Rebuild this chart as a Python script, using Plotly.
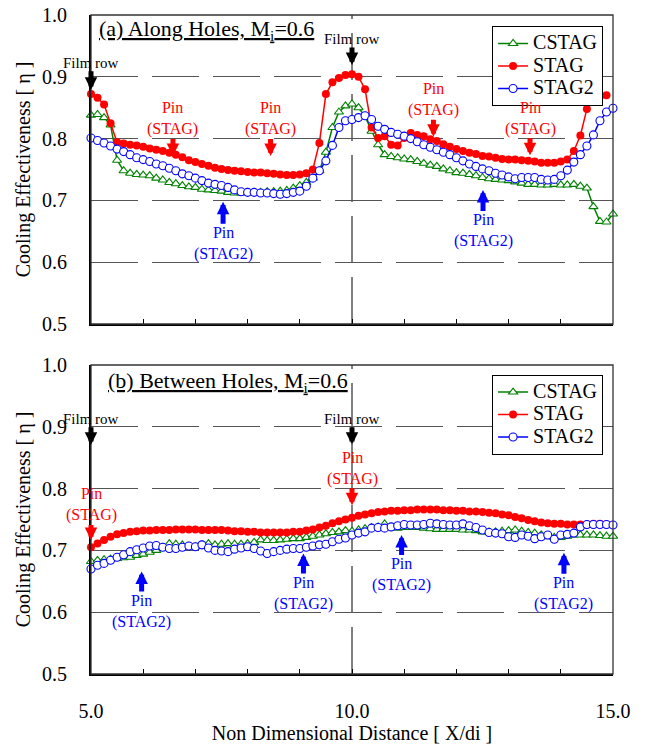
import plotly.graph_objects as go

# Sample positions along the wall, X/di
X_START = 5.0
X_STEP = 0.125
N_POINTS = 81
X = [X_START + X_STEP * i for i in range(N_POINTS)]

# (a) Along holes, Mi = 0.6
CSTAG_A = [0.838, 0.839, 0.834, 0.822, 0.765, 0.748, 0.744, 0.742, 0.741, 0.740,
           0.736, 0.733, 0.729, 0.727, 0.724, 0.722, 0.721, 0.718, 0.717, 0.716,
           0.715, 0.713, 0.712, 0.712, 0.713, 0.713, 0.713, 0.714, 0.714, 0.715,
           0.716, 0.720, 0.724, 0.729, 0.736, 0.748, 0.778, 0.818, 0.843, 0.853,
           0.856, 0.850, 0.836, 0.812, 0.790, 0.774, 0.771, 0.769, 0.767, 0.766,
           0.763, 0.760, 0.757, 0.755, 0.751, 0.748, 0.745, 0.744, 0.742, 0.740,
           0.737, 0.735, 0.734, 0.733, 0.732, 0.730, 0.728, 0.726, 0.726, 0.725,
           0.725, 0.726, 0.725, 0.725, 0.726, 0.723, 0.720, 0.690, 0.666, 0.665,
           0.678]
STAG_A = [0.872, 0.866, 0.855, 0.825, 0.794, 0.792, 0.790, 0.789, 0.787, 0.784,
          0.782, 0.780, 0.777, 0.774, 0.770, 0.765, 0.762, 0.759, 0.756, 0.753,
          0.751, 0.749, 0.748, 0.747, 0.746, 0.745, 0.745, 0.744, 0.743, 0.742,
          0.741, 0.741, 0.742, 0.744, 0.750, 0.793, 0.872, 0.891, 0.898, 0.903,
          0.904, 0.900, 0.880, 0.818, 0.801, 0.804, 0.790, 0.789, 0.801, 0.809,
          0.806, 0.804, 0.799, 0.796, 0.791, 0.787, 0.783, 0.780, 0.777, 0.775,
          0.772, 0.771, 0.769, 0.767, 0.766, 0.766, 0.765, 0.764, 0.763, 0.761,
          0.761, 0.761, 0.763, 0.766, 0.780, 0.805, 0.848, 0.865, 0.868, 0.870,
          None]
STAG2_A = [0.801, 0.797, 0.793, 0.788, 0.783, 0.779, 0.774, 0.769, 0.766, 0.763,
           0.759, 0.756, 0.752, 0.748, 0.743, 0.740, 0.736, 0.732, 0.728, 0.726,
           0.724, 0.721, 0.717, 0.714, 0.713, 0.713, 0.712, 0.712, 0.711, 0.710,
           0.711, 0.713, 0.715, 0.723, 0.736, 0.748, 0.764, 0.789, 0.818, 0.829,
           0.831, 0.834, 0.837, 0.831, 0.820, 0.815, 0.810, 0.807, 0.804, 0.800,
           0.795, 0.790, 0.786, 0.782, 0.778, 0.774, 0.769, 0.764, 0.759, 0.755,
           0.751, 0.748, 0.744, 0.741, 0.738, 0.735, 0.737, 0.737, 0.737, 0.734,
           0.733, 0.734, 0.740, 0.749, 0.762, 0.774, 0.788, 0.806, 0.829, 0.843,
           0.849]

# (b) Between holes, Mi = 0.6
CSTAG_B = [0.682, 0.684, 0.685, 0.686, 0.687, 0.688, 0.689, 0.692, 0.694, 0.697,
           0.700, 0.705, 0.711, 0.710, 0.709, 0.707, 0.706, 0.709, 0.711, 0.709,
           0.710, 0.711, 0.710, 0.710, 0.711, 0.713, 0.717, 0.716, 0.716, 0.717,
           0.718, 0.719, 0.719, 0.721, 0.723, 0.725, 0.727, 0.729, 0.730, 0.732,
           0.731, 0.733, 0.735, 0.737, 0.738, 0.743, 0.737, 0.736, 0.737, 0.737,
           0.737, 0.736, 0.735, 0.734, 0.734, 0.734, 0.734, 0.733, 0.733, 0.732,
           0.730, 0.730, 0.730, 0.731, 0.732, 0.733, 0.731, 0.729, 0.728, 0.725,
           0.722, 0.721, 0.721, 0.723, 0.725, 0.725, 0.725, 0.725, 0.724, 0.723,
           0.723]
STAG_B = [0.705, 0.711, 0.717, 0.722, 0.726, 0.728, 0.730, 0.731, 0.732, 0.732,
          0.733, 0.733, 0.733, 0.734, 0.734, 0.734, 0.734, 0.733, 0.733, 0.733,
          0.733, 0.732, 0.731, 0.731, 0.730, 0.730, 0.729, 0.729, 0.729, 0.729,
          0.729, 0.730, 0.730, 0.732, 0.734, 0.737, 0.740, 0.744, 0.747, 0.750,
          0.753, 0.756, 0.758, 0.760, 0.762, 0.763, 0.764, 0.764, 0.765, 0.765,
          0.766, 0.766, 0.766, 0.766, 0.765, 0.765, 0.764, 0.764, 0.763, 0.763,
          0.762, 0.761, 0.760, 0.758, 0.757, 0.754, 0.752, 0.749, 0.747, 0.745,
          0.744, 0.743, 0.743, 0.742, 0.742, 0.742, 0.742, 0.743, 0.743, 0.742,
          None]
STAG2_B = [0.670, 0.676, 0.679, 0.684, 0.689, 0.693, 0.698, 0.701, 0.704, 0.707,
           0.708, 0.705, 0.703, 0.703, 0.705, 0.707, 0.706, 0.709, 0.704, 0.700,
           0.699, 0.698, 0.702, 0.704, 0.706, 0.703, 0.699, 0.695, 0.698, 0.700,
           0.702, 0.703, 0.703, 0.705, 0.707, 0.709, 0.710, 0.714, 0.718, 0.720,
           0.725, 0.728, 0.730, 0.736, 0.737, 0.736, 0.738, 0.740, 0.742, 0.741,
           0.741, 0.742, 0.744, 0.743, 0.742, 0.741, 0.741, 0.743, 0.740, 0.737,
           0.733, 0.729, 0.728, 0.727, 0.722, 0.721, 0.725, 0.723, 0.719, 0.722,
           0.725, 0.718, 0.725, 0.726, 0.728, 0.738, 0.742, 0.742, 0.742, 0.742,
           0.741]

SERIES_NAMES = ["CSTAG", "STAG", "STAG2"]
X_TICKS = [5, 10, 15]
X_TICK_TEXT = ["5.0", "10.0", "15.0"]
Y_TICKS = [0.5, 0.6, 0.7, 0.8, 0.9, 1.0]

FONT = "Liberation Serif"
GREEN, RED, BLUE = "#008000", "#ff0000", "#0000ff"
GRID_DASH = "47px,14px"

STYLES = {
    "CSTAG": dict(line=dict(color=GREEN, width=1.5),
                  marker=dict(symbol="triangle-up", size=8, color="white",
                              line=dict(color=GREEN, width=1.1))),
    "STAG": dict(line=dict(color=RED, width=1.5),
                 marker=dict(symbol="circle", size=8, color=RED,
                             line=dict(color=RED, width=0))),
    "STAG2": dict(line=dict(color=BLUE, width=1.5),
                  marker=dict(symbol="circle", size=8, color="white",
                              line=dict(color=BLUE, width=1.1))),
}


def legend_name(name):
    # larger glyphs inside a compact legend row
    return f'<span style="font-size:20px">{name}</span>'


fig = go.Figure()

panels = [
    ("x", "y", "legend", [CSTAG_A, STAG_A, STAG2_A]),
    ("x2", "y2", "legend2", [CSTAG_B, STAG_B, STAG2_B]),
]
for xa, ya, leg, values in panels:
    for name, yv in zip(SERIES_NAMES, values):
        fig.add_trace(go.Scatter(
            x=X, y=yv, name=legend_name(name), mode="lines+markers",
            xaxis=xa, yaxis=ya, legend=leg, cliponaxis=False,
            **STYLES[name]))

axis_common = dict(
    showline=True, linecolor="black", linewidth=2, mirror=False,
    zeroline=False, color="black", automargin=False,
    tickfont=dict(family=FONT, size=20, color="black"),
)
x_common = dict(axis_common, range=[5, 15], tickmode="array", tickvals=X_TICKS,
                ticktext=X_TICK_TEXT, ticks="inside", ticklen=5, tickwidth=1,
                tickcolor="black", showgrid=False,
                minor=dict(ticks="inside", ticklen=5, tickwidth=1,
                           tickcolor="black", dtick=1, tick0=5, showgrid=False))
y_common = dict(axis_common, range=[0.5, 1.0], tickmode="array", tickvals=Y_TICKS,
                tickformat=".1f", ticks="", showgrid=True, gridcolor="#555555",
                gridwidth=1, griddash=GRID_DASH, ticklabelstandoff=18,
                title=dict(text="Cooling Effectiveness [ η ]",
                           font=dict(family=FONT, size=20, color="black"),
                           standoff=6))

TOP_DOMAIN = [350 / 659, 1.0]
BOTTOM_DOMAIN = [0.0, 309 / 659]

legend_common = dict(xanchor="right", yanchor="top", bgcolor="white",
                     bordercolor="black", borderwidth=1,
                     font=dict(family=FONT, size=15, color="black"),
                     itemwidth=30, tracegroupgap=0)

fig.update_layout(
    width=645, height=749, autosize=False,
    margin=dict(l=91, r=32, t=15, b=75, autoexpand=False),
    paper_bgcolor="white", plot_bgcolor="white",
    font=dict(family=FONT, color="black"),
    xaxis=dict(x_common, anchor="y", domain=[0, 1], showticklabels=False),
    yaxis=dict(y_common, anchor="x", domain=TOP_DOMAIN),
    xaxis2=dict(x_common, anchor="y2", domain=[0, 1], ticklabelstandoff=18,
                title=dict(text="Non Dimensional Distance [ X/di ]",
                           font=dict(family=FONT, size=20, color="black"),
                           standoff=5)),
    yaxis2=dict(y_common, anchor="x2", domain=BOTTOM_DOMAIN),
    legend=dict(legend_common, x=0.981, y=0.983),
    legend2=dict(legend_common, x=0.981, y=0.454),
    showlegend=True,
)

# Panel frames and the dashed film-row line at X/di = 10
for xa, ya in [("x", "y"), ("x2", "y2")]:
    fig.add_shape(type="rect", xref=f"{xa} domain", yref=f"{ya} domain",
                  x0=0, x1=1, y0=0, y1=1, line=dict(color="#333333", width=1.3),
                  layer="above")
    fig.add_shape(type="line", xref=xa, yref=f"{ya} domain", x0=10, x1=10,
                  y0=0, y1=1, line=dict(color="black", width=1, dash=GRID_DASH),
                  layer="below")

# Panel titles
fig.add_annotation(xref="x domain", yref="y domain", x=0.011, y=0.951,
                   xanchor="left", yanchor="middle", showarrow=False,
                   text="<u>(a) Along Holes, M<sub>i</sub>=0.6</u>",
                   font=dict(family=FONT, size=22, color="black"))
fig.add_annotation(xref="x2 domain", yref="y2 domain", x=0.029, y=0.945,
                   xanchor="left", yanchor="middle", showarrow=False,
                   text="<u>(b) Between Holes, M<sub>i</sub>=0.6</u>",
                   font=dict(family=FONT, size=22, color="black"))


def marker_label(xa, ya, x, y, text, color, dy, size):
    fig.add_annotation(xref=xa, yref=ya, x=x, y=y, ax=0, ay=dy, text=text,
                       showarrow=True, arrowhead=2, arrowsize=0.5,
                       arrowwidth=5, arrowcolor=color, borderpad=0,
                       align="center",
                       font=dict(family=FONT, size=size, color=color))


FILM = "Film row"
PIN_STAG = "Pin<br>(STAG)"
PIN_STAG2 = "Pin<br>(STAG2)"

# (a) labels
marker_label("x", "y", 5.0, 0.879, FILM, "black", -27, 15)
marker_label("x", "y", 10.0, 0.919, FILM, "black", -26, 15)
marker_label("x", "y", 6.57, 0.772, PIN_STAG, RED, -37, 16)
marker_label("x", "y", 8.44, 0.772, PIN_STAG, RED, -37, 16)
marker_label("x", "y", 11.56, 0.803, PIN_STAG, RED, -37, 16)
marker_label("x", "y", 13.41, 0.773, PIN_STAG, RED, -37, 16)
marker_label("x", "y", 7.53, 0.698, PIN_STAG2, BLUE, 42, 16)
marker_label("x", "y", 12.51, 0.717, PIN_STAG2, BLUE, 41, 16)

# (b) labels
marker_label("x2", "y2", 5.0, 0.871, FILM, "black", -26, 15)
marker_label("x2", "y2", 10.0, 0.871, FILM, "black", -26, 15)
marker_label("x2", "y2", 5.0, 0.717, PIN_STAG, RED, -35, 16)
marker_label("x2", "y2", 10.0, 0.773, PIN_STAG, RED, -37, 16)
marker_label("x2", "y2", 5.97, 0.666, PIN_STAG2, BLUE, 40, 16)
marker_label("x2", "y2", 9.07, 0.695, PIN_STAG2, BLUE, 40, 16)
marker_label("x2", "y2", 10.95, 0.725, PIN_STAG2, BLUE, 40, 16)
marker_label("x2", "y2", 14.06, 0.696, PIN_STAG2, BLUE, 41, 16)

fig.write_html("out.html")
